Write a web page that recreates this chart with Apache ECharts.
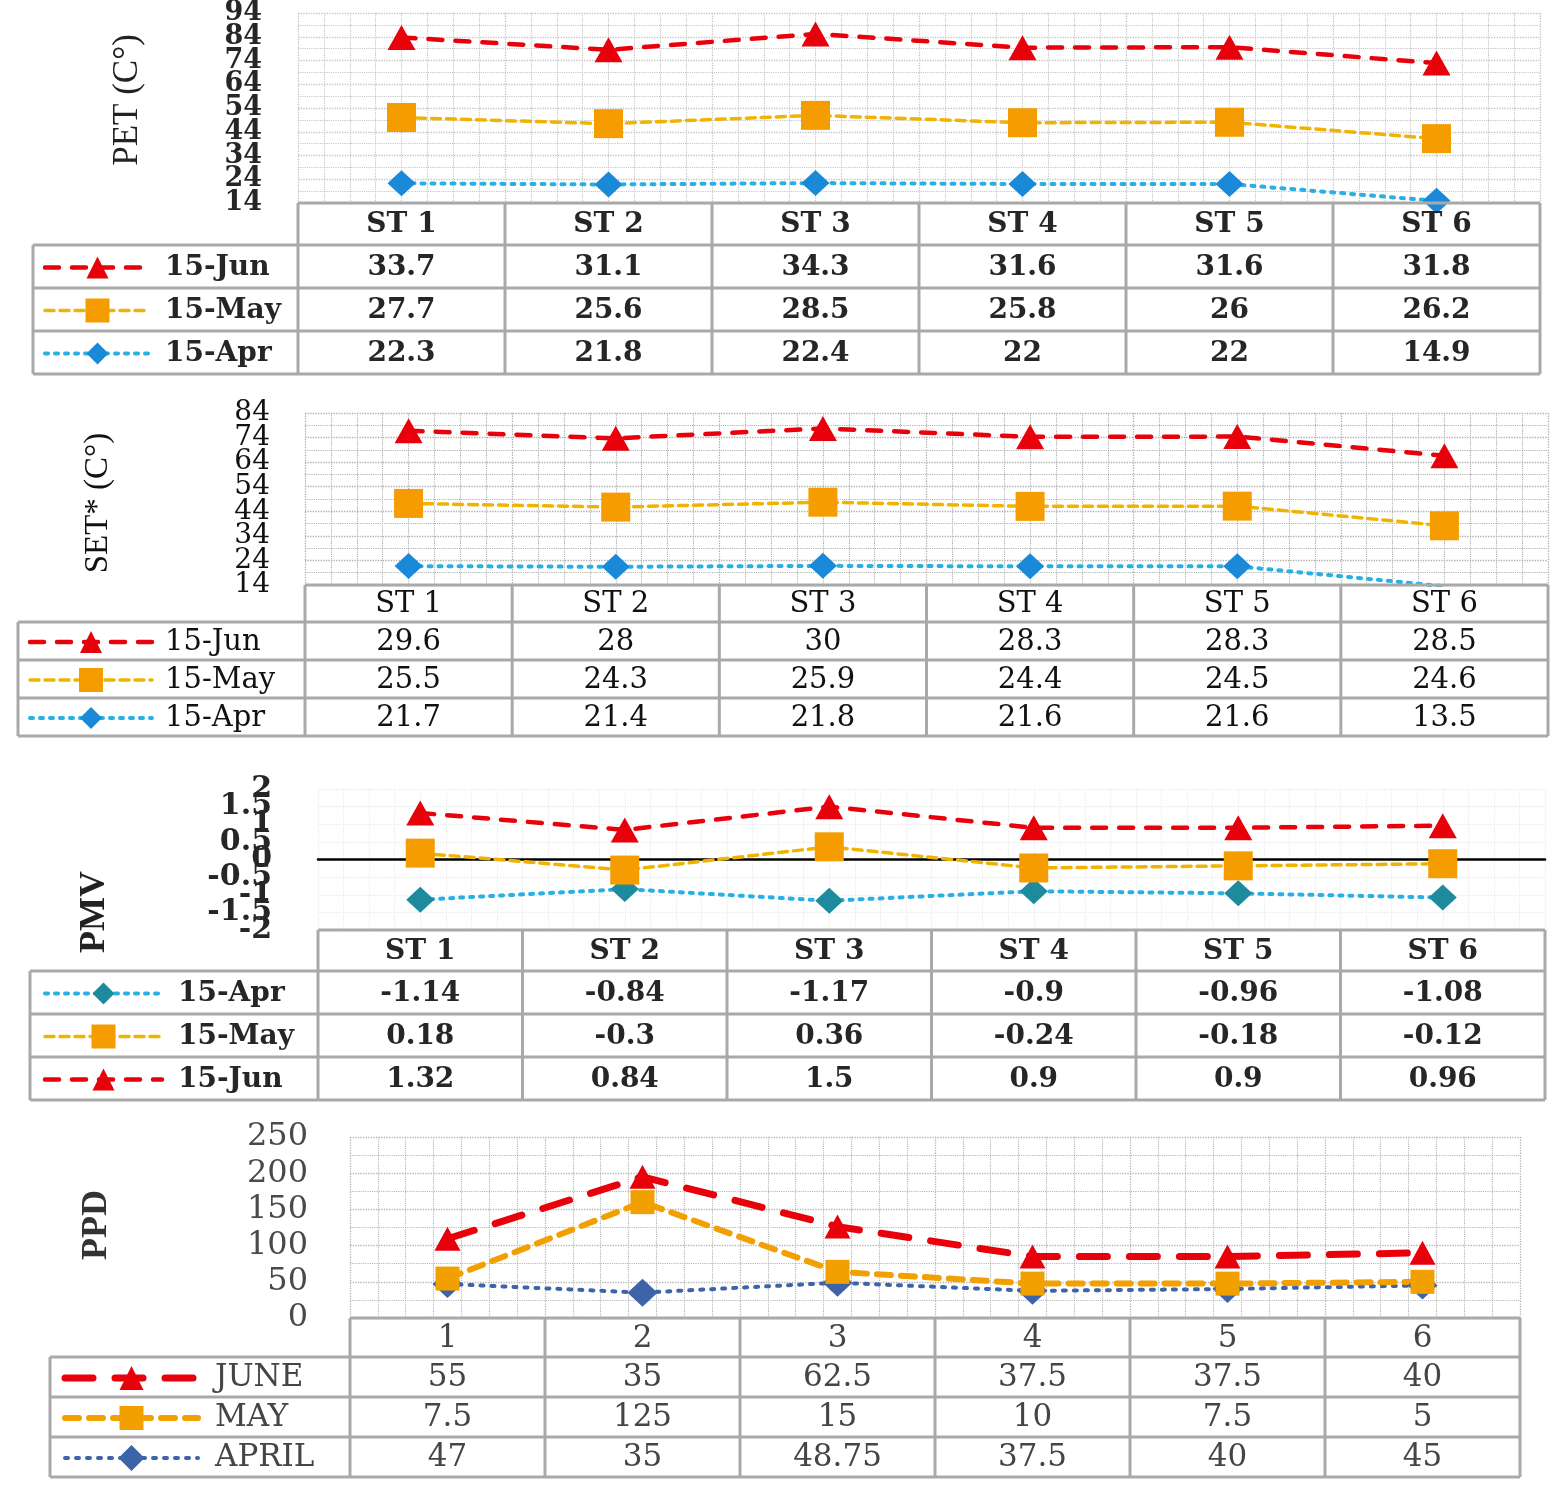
<!DOCTYPE html>
<html>
<head>
<meta charset="utf-8">
<script src="https://cdn.jsdelivr.net/npm/echarts@6/dist/echarts.min.js"></script>
<style>
  html, body { margin: 0; background: #fff; }
  #main { width: 1562px; height: 1495px; }
</style>
</head>
<body>
<div id="main"></div>
<script>
// categories
const stations = ['ST 1', 'ST 2', 'ST 3', 'ST 4', 'ST 5', 'ST 6'];
const ppdCats = ['1', '2', '3', '4', '5', '6'];

// PET (C°)
const petJun = [33.7, 31.1, 34.3, 31.6, 31.6, 31.8];
const petMay = [27.7, 25.6, 28.5, 25.8, 26, 26.2];
const petApr = [22.3, 21.8, 22.4, 22, 22, 14.9];

// SET* (C°)
const setJun = [29.6, 28, 30, 28.3, 28.3, 28.5];
const setMay = [25.5, 24.3, 25.9, 24.4, 24.5, 24.6];
const setApr = [21.7, 21.4, 21.8, 21.6, 21.6, 13.5];

// PMV
const pmvApr = [-1.14, -0.84, -1.17, -0.9, -0.96, -1.08];
const pmvMay = [0.18, -0.3, 0.36, -0.24, -0.18, -0.12];
const pmvJun = [1.32, 0.84, 1.5, 0.9, 0.9, 0.96];

// PPD
const ppdJun = [55, 35, 62.5, 37.5, 37.5, 40];
const ppdMay = [7.5, 125, 15, 10, 7.5, 5];
const ppdApr = [47, 35, 48.75, 37.5, 40, 45];

// line looks
const sJun = { color: '#e8000b', line: '#e8000b', dash: [14, 13], width: 4.5, symbol: 'triangle', size: [28, 25], key: 22 };
const sMay = { color: '#f59d00', line: '#f0b400', dash: [9, 6], width: 3.5, symbol: 'rect', size: [29, 29], key: 24 };
const sApr = { color: '#1a8ad8', line: '#28b0e4', dash: [3, 7], width: 4, symbol: 'diamond', size: [28, 26], key: 22 };
const sAprPmv = { color: '#1d8a9e', line: '#28b0e4', dash: [3, 7], width: 4, symbol: 'diamond', size: [28, 26], key: 22 };
const pJun = { color: '#e8000b', line: '#e8000b', dash: [28, 22], width: 7, symbol: 'triangle', size: [26, 24], key: 24 };
const pMay = { color: '#f2a000', line: '#f2a000', dash: [14, 10], width: 6, symbol: 'rect', size: [24, 24], key: 24 };
const pApr = { color: '#3d64a8', line: '#3d64a8', dash: [3, 8], width: 4, symbol: 'diamond', size: [30, 28], key: 26 };

const panels = [
  {
    id: 'pet', title: 'PET (C°)', titleX: 128, titleY: 100, titleFont: '35px "Liberation Serif"', titleColor: '#222',
    cats: stations, left: 298, top: 13, width: 1242, height: 190,
    min: 14, max: 94, interval: 10, stack: true,
    label: { fontFamily: 'DejaVu Serif', fontWeight: 'bold', fontSize: 27, color: '#262626', margin: 36 },
    grid: { color: '#c4c4c4', vMinor: 8, hMinor: 2 },
    tableLeft: 33, headH: 42, rowH: 43, font: 'bold 28px "DejaVu Serif"', textColor: '#262626',
    keyX1: 45, keyX2: 150, nameX: 165,
    rows: [['15-Jun', petJun, sJun], ['15-May', petMay, sMay], ['15-Apr', petApr, sApr]],
    order: [2, 1, 0]
  },
  {
    id: 'set', title: 'SET* (C°)', titleX: 98, titleY: 503, titleFont: '33px "Liberation Serif"', titleColor: '#111',
    cats: stations, left: 305, top: 413, width: 1243, height: 172,
    min: 14, max: 84, interval: 10, stack: true,
    label: { fontFamily: 'DejaVu Serif', fontSize: 28, color: '#111', margin: 35 },
    grid: { color: '#adadad', vMinor: 8, hMinor: 2 },
    tableLeft: 18, headH: 37, rowH: 38, font: '29px "DejaVu Serif"', textColor: '#111',
    keyX1: 30, keyX2: 152, nameX: 165,
    rows: [['15-Jun', setJun, sJun], ['15-May', setMay, sMay], ['15-Apr', setApr, sApr]],
    order: [2, 1, 0]
  },
  {
    id: 'pmv', title: 'PMV', titleX: 95, titleY: 912, titleFont: 'bold 36px "Liberation Serif"', titleColor: '#222',
    cats: stations, left: 318, top: 789, width: 1227, height: 141,
    min: -2, max: 2, interval: 0.5, stack: false, zeroLine: true,
    label: { fontFamily: 'DejaVu Serif', fontWeight: 'bold', fontSize: 30, color: '#262626', margin: 46 },
    grid: { color: '#ececec', vMinor: 8, hMinor: 1 },
    tableLeft: 30, headH: 41, rowH: 43, font: 'bold 28px "DejaVu Serif"', textColor: '#262626',
    keyX1: 45, keyX2: 162, nameX: 178,
    rows: [['15-Apr', pmvApr, sAprPmv], ['15-May', pmvMay, sMay], ['15-Jun', pmvJun, sJun]],
    order: [0, 1, 2]
  },
  {
    id: 'ppd', title: 'PPD', titleX: 97, titleY: 1225, titleFont: 'bold 36px "Liberation Serif"', titleColor: '#333',
    cats: ppdCats, left: 350, top: 1137, width: 1170, height: 181,
    min: 0, max: 250, interval: 50, stack: true,
    label: { fontFamily: 'DejaVu Serif', fontSize: 32, color: '#4a4a4a', margin: 42 },
    grid: { color: '#b4b4b4', vMinor: 7, hMinor: 2 },
    tableLeft: 50, headH: 39, rowH: 40, font: '31px "DejaVu Serif"', textColor: '#454545',
    keyX1: 65, keyX2: 198, nameX: 215,
    rows: [['JUNE', ppdJun, pJun], ['MAY', ppdMay, pMay], ['APRIL', ppdApr, pApr]],
    order: [2, 1, 0]
  }
];

const grids = [], xAxes = [], yAxes = [], series = [], graphics = [];

function keyMarker(st, cx, cy) {
  const s = st.key;
  if (st.symbol === 'triangle') {
    return { type: 'polygon', shape: { points: [[cx, cy - s / 2], [cx + s / 2, cy + s / 2], [cx - s / 2, cy + s / 2]] }, style: { fill: st.color } };
  }
  if (st.symbol === 'rect') {
    return { type: 'rect', shape: { x: cx - s / 2, y: cy - s / 2, width: s, height: s }, style: { fill: st.color } };
  }
  return { type: 'polygon', shape: { points: [[cx, cy - s / 2], [cx + s / 2, cy], [cx, cy + s / 2], [cx - s / 2, cy]] }, style: { fill: st.color } };
}

panels.forEach((p, i) => {
  grids.push({ left: p.left, top: p.top, width: p.width, height: p.height, outerBoundsMode: 'none', containLabel: false });

  // category axis that positions the points
  xAxes.push({
    type: 'category', gridIndex: i, data: p.cats, boundaryGap: true,
    axisLine: { show: !!p.zeroLine, onZero: true, lineStyle: { color: '#000', width: 2.5 } },
    axisTick: { show: false }, axisLabel: { show: false }, splitLine: { show: false }
  });
  // value axis used only for the vertical grid lines
  xAxes.push({
    type: 'value', gridIndex: i, min: 0, max: p.cats.length, interval: 1,
    axisLine: { show: false }, axisTick: { show: false }, axisLabel: { show: false },
    splitLine: { show: true, lineStyle: { color: p.grid.color, type: 'dotted', width: 1.3 } },
    minorTick: { show: false, splitNumber: p.grid.vMinor },
    minorSplitLine: { show: true, lineStyle: { color: p.grid.color, type: 'dotted', width: 1.1 } }
  });

  // tick labels are packed tighter than their font, so the even and odd
  // ticks go on two overlaid y axes (otherwise echarts drops some)
  const nTicks = Math.round((p.max - p.min) / p.interval);
  const lb = p.label;
  [0, 1].forEach(par => {
    const first = par === 0;
    yAxes.push({
      type: 'value', gridIndex: i, min: p.min, max: p.max, interval: p.interval, position: 'left',
      axisLine: { show: false }, axisTick: { show: false },
      axisLabel: {
        show: true, hideOverlap: false, margin: lb.margin,
        showMinLabel: par === 0 ? true : null,
        showMaxLabel: nTicks % 2 === par ? true : null,
        fontFamily: lb.fontFamily, fontWeight: lb.fontWeight || 'normal', fontSize: lb.fontSize, color: lb.color,
        formatter: v => (Math.round((v - p.min) / p.interval) % 2 === par ? String(v) : '')
      },
      splitLine: { show: first, lineStyle: { color: p.grid.color, type: 'dotted', width: 1.3 } },
      minorTick: { show: false, splitNumber: p.grid.hMinor },
      minorSplitLine: { show: first && p.grid.hMinor > 1, lineStyle: { color: p.grid.color, type: 'dotted', width: 1.1 } }
    });
  });

  p.order.forEach(r => {
    const [name, data, st] = p.rows[r];
    series.push({
      type: 'line', name: p.id + ' ' + name, xAxisIndex: i * 2, yAxisIndex: i * 2,
      data: data, stack: p.stack ? p.id : undefined,
      symbol: st.symbol, symbolSize: st.size, showSymbol: true, clip: true,
      itemStyle: { color: st.color },
      lineStyle: { color: st.line, width: st.width, type: st.dash, cap: 'round' },
      emphasis: { disabled: true }, z: 3
    });
  });

  // y title
  graphics.push({
    type: 'text', x: p.titleX, y: p.titleY, rotation: Math.PI / 2,
    style: { text: p.title, font: p.titleFont, fill: p.titleColor, align: 'center', verticalAlign: 'middle' }
  });

  // data table
  const colW = p.width / p.cats.length;
  const right = p.left + p.width;
  const headTop = p.top + p.height;
  const bodyTop = headTop + p.headH;
  const bottom = bodyTop + p.rowH * p.rows.length;
  const bs = { stroke: '#a9a9a9', lineWidth: 3 };
  const hl = (x1, x2, y) => graphics.push({ type: 'line', shape: { x1: x1, y1: y, x2: x2, y2: y }, style: bs, z: 10 });
  const vl = (x, y1, y2) => graphics.push({ type: 'line', shape: { x1: x, y1: y1, x2: x, y2: y2 }, style: bs, z: 10 });

  hl(p.left, right, headTop);
  for (let r = 0; r <= p.rows.length; r++) hl(p.tableLeft, right, bodyTop + r * p.rowH);
  vl(p.tableLeft, bodyTop, bottom);
  for (let c = 0; c <= p.cats.length; c++) vl(p.left + c * colW, headTop, bottom);

  p.cats.forEach((c, k) => {
    graphics.push({
      type: 'text', x: p.left + (k + 0.5) * colW, y: headTop + p.headH / 2 + 1, z: 11,
      style: { text: c, font: p.font, fill: p.textColor, align: 'center', verticalAlign: 'middle' }
    });
  });
  p.rows.forEach(([name, data, st], r) => {
    const cy = bodyTop + (r + 0.5) * p.rowH + 1;
    data.forEach((v, k) => {
      graphics.push({
        type: 'text', x: p.left + (k + 0.5) * colW, y: cy, z: 11,
        style: { text: String(v), font: p.font, fill: p.textColor, align: 'center', verticalAlign: 'middle' }
      });
    });
    graphics.push({
      type: 'line', z: 11,
      shape: { x1: p.keyX1, y1: cy, x2: p.keyX2, y2: cy },
      style: { stroke: st.line, lineWidth: st.width, lineDash: st.dash, lineCap: 'round' }
    });
    graphics.push(Object.assign({ z: 12 }, keyMarker(st, (p.keyX1 + p.keyX2) / 2, cy)));
    graphics.push({
      type: 'text', x: p.nameX, y: cy, z: 11,
      style: { text: name, font: p.font, fill: p.textColor, align: 'left', verticalAlign: 'middle' }
    });
  });
});

const chart = echarts.init(document.getElementById('main'), null, { renderer: 'canvas' });
chart.setOption({
  animation: false,
  backgroundColor: '#fff',
  grid: grids,
  xAxis: xAxes,
  yAxis: yAxes,
  series: series,
  graphic: { elements: graphics }
});
</script>
</body>
</html>
